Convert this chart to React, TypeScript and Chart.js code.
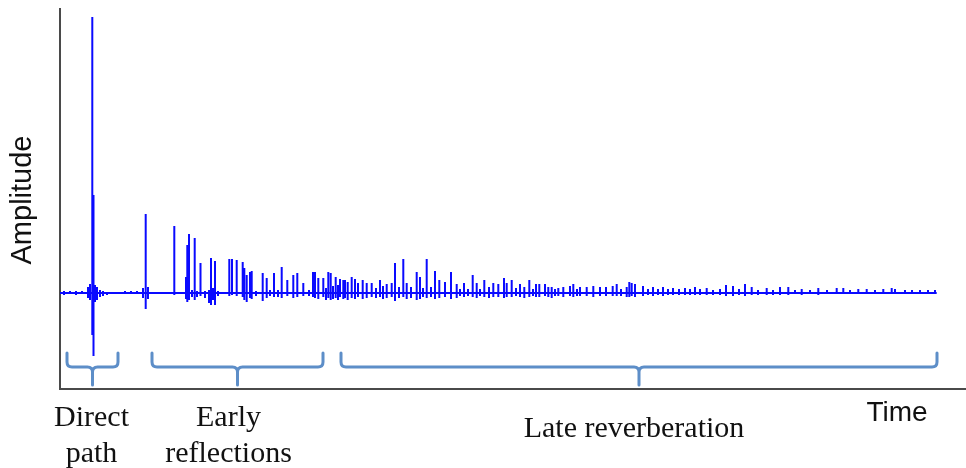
import React, { useEffect, useRef } from "react";
import { Chart, registerables } from "chart.js";

Chart.register(...registerables);

// Impulse response: time in ms, amplitude in raw sample units
const spikeTimes = [
  0.4, 1.0, 1.6, 2.2, 2.8, 3.0, 3.23, 3.35, 3.5, 3.7, 4.0, 4.3, 4.7, 6.5, 7.1, 7.7, 8.3, 8.57, 8.8,
  11.43, 12.6, 12.73, 12.9, 13.2, 13.47, 13.7, 14.05, 14.5, 14.9, 15.1, 15.3, 15.5, 15.8,
  16.93, 17.2, 17.67, 18.27, 18.43, 18.67, 19.0, 19.17, 19.6, 20.27, 20.67, 21.0, 21.4, 21.8,
  22.17, 22.73, 23.33, 23.73, 24.33, 24.9, 25.3, 25.5, 25.83, 26.33, 26.6, 26.83, 27.07, 27.3,
  27.57, 27.8, 28.0, 28.33, 28.5, 28.77, 29.17, 29.5, 29.8, 30.27, 30.67, 31.17, 31.6, 32.0,
  32.3, 32.67, 33.17, 33.5, 33.9, 34.33, 34.67, 35.1, 35.67, 36.0, 36.3, 36.67, 37.1, 37.5,
  37.93, 38.5, 39.1, 39.67, 40.0, 40.4, 40.8, 41.27, 41.67, 42.0, 42.43, 42.9, 43.33, 43.83,
  44.4, 44.67, 45.17, 45.6, 46.0, 46.43, 46.93, 47.3, 47.6, 47.93, 48.5, 48.83, 49.17, 49.5,
  49.83, 50.33, 51.0, 51.33, 51.7, 52.0, 52.67, 53.33, 54.0, 54.6, 55.27, 55.67, 56.1, 56.67,
  56.93, 57.17, 57.5, 58.3, 58.8, 59.3, 59.8, 60.3, 60.8, 61.3, 61.9, 62.5, 63.0, 63.5, 64.0,
  64.67, 65.3, 66.0, 66.6, 67.3, 67.9, 68.5, 69.17, 69.8, 70.67, 71.3, 72.0, 72.83, 73.5,
  74.17, 75.0, 75.83, 76.7, 77.67, 78.33, 79.0, 79.83, 80.67, 81.5, 82.33, 83.17, 83.5, 84.5,
  85.2, 86.0, 86.8, 87.5,
];
const spikePeaks = [
  200, 200, 200, 200, 600, 900, 27600, 9800, 800, 600, 300, 200, 100, 200, 200, 200, 500, 7900, 600,
  6700, 1600, 4800, 5900, 300, 5500, 200, 3000, 200, 300, 3500, 500, 3200, 200,
  3400, 3400, 3300, 3100, 2500, 1800, 2100, 2200, 200, 2000, 1500, 300, 2000, 300,
  2600, 1300, 1800, 2000, 1000, 300, 2100, 2100, 1500, 1500, 500, 2100, 2000, 700,
  1600, 800, 1400, 1300, 1300, 1100, 1600, 1400, 1000, 1300, 1000, 1000, 500, 1300,
  700, 900, 1000, 3000, 600, 3400, 1000, 600, 2100, 1600, 500, 3400, 600, 2200,
  1300, 1100, 2100, 900, 400, 1000, 400, 1800, 1000, 400, 1300, 600, 1000, 900,
  1500, 1000, 1300, 500, 900, 600, 1300, 400, 900, 900, 900, 600, 600, 400,
  500, 600, 700, 900, 400, 600, 600, 700, 600, 600, 700, 900, 400, 600,
  1100, 1000, 900, 700, 400, 600, 400, 600, 400, 500, 400, 500, 400, 600, 400,
  500, 300, 400, 800, 700, 400, 900, 600, 300, 500, 300, 600, 600, 300,
  400, 300, 500, 300, 500, 500, 300, 400, 400, 300, 400, 500, 400, 300,
  300, 300, 300, 300,
];
const spikeTroughs = [
  -200, -100, -200, -100, -500, -700, -4200, -6300, -900, -700, -400, -300, -200, -100, -100, -100, -500, -1600, -600,
  -200, -600, -900, -700, -400, -700, -400, -300, -500, -1000, -1200, -700, -1200, -300,
  -300, -200, -300, -400, -700, -900, -500, -600, -300, -800, -500, -300, -400, -400,
  -500, -300, -500, -400, -300, -300, -400, -500, -600, -400, -700, -500, -700, -600,
  -500, -700, -400, -600, -500, -700, -500, -600, -400, -600, -500, -400, -500, -400,
  -600, -500, -400, -800, -500, -400, -600, -500, -700, -600, -400, -500, -400, -600,
  -500, -400, -600, -500, -300, -400, -300, -400, -500, -300, -400, -500, -400, -400,
  -500, -400, -400, -300, -400, -500, -400, -300, -400, -400, -300, -400, -500, -300,
  -300, -400, -300, -400, -300, -300, -300, -400, -300, -300, -300, -300, -300, -400,
  -400, -300, -400, -300, -200, -300, -200, -300, -200, -200, -200, -200, -200, -200, -200,
  -200, -200, -200, -300, -300, -200, -300, -200, -200, -200, -200, -200, -200, -100,
  -200, -100, -200, -100, -100, -100, -100, -100, -100, -100, -100, -100, -100, -100,
  -100, -100, -100, -100,
];
const signalEnd = 87.67;

// Segments of the response
const bracketStarts = [0.7, 9.2, 28.1];
const bracketEnds = [5.8, 26.3, 87.7];
const bracketLabels = [["Direct", "path"], ["Early", "reflections"], ["Late reverberation"]];
const xAxisTitle = "Time";
const yAxisTitle = "Amplitude";

const X_MIN = 0;
const X_MAX = 90.2;
const Y_MIN = -9500;
const Y_MAX = 28300;

const labelOffsets = [-1, -9, -5];
const labelBaselines = [[426, 462], [426, 462], [437]];

const overlayPlugin = {
  id: "overlay",
  beforeDatasetsDraw(chart: any) {
    const { ctx, chartArea, scales } = chart;
    const xs = scales.x;
    ctx.save();
    // axes
    ctx.strokeStyle = "#4a4a4a";
    ctx.lineWidth = 2;
    ctx.beginPath();
    ctx.moveTo(chartArea.left, 8);
    ctx.lineTo(chartArea.left, chartArea.bottom + 1);
    ctx.lineTo(966, chartArea.bottom + 1);
    ctx.stroke();

    // braces
    const top = chartArea.bottom - 35;
    const mid = chartArea.bottom - 21;
    const tip = chartArea.bottom - 3;
    const r = 5;
    ctx.strokeStyle = "rgb(93,142,200)";
    ctx.lineWidth = 3;
    ctx.lineCap = "round";
    ctx.lineJoin = "round";
    for (let i = 0; i < bracketStarts.length; i++) {
      const x1 = xs.getPixelForValue(bracketStarts[i]);
      const x2 = xs.getPixelForValue(bracketEnds[i]);
      const xc = (x1 + x2) / 2;
      ctx.beginPath();
      ctx.moveTo(x1, top);
      ctx.lineTo(x1, mid - r);
      ctx.quadraticCurveTo(x1, mid, x1 + r, mid);
      ctx.lineTo(xc - r, mid);
      ctx.quadraticCurveTo(xc, mid, xc, mid + r);
      ctx.lineTo(xc, tip);
      ctx.moveTo(x2, top);
      ctx.lineTo(x2, mid - r);
      ctx.quadraticCurveTo(x2, mid, x2 - r, mid);
      ctx.lineTo(xc + r, mid);
      ctx.quadraticCurveTo(xc, mid, xc, mid + r);
      ctx.stroke();
    }

    // labels
    ctx.fillStyle = "#111";
    ctx.textAlign = "center";
    ctx.textBaseline = "alphabetic";
    ctx.font = '30px "Liberation Serif", "Times New Roman", serif';
    for (let i = 0; i < bracketLabels.length; i++) {
      const x1 = xs.getPixelForValue(bracketStarts[i]);
      const x2 = xs.getPixelForValue(bracketEnds[i]);
      const xc = (x1 + x2) / 2 + labelOffsets[i];
      bracketLabels[i].forEach((line, j) => {
        ctx.fillText(line, xc, labelBaselines[i][j]);
      });
    }
    ctx.font = '28px "Liberation Sans", Arial, sans-serif';
    ctx.fillText(xAxisTitle, 897, 421);
    ctx.translate(31, 200);
    ctx.rotate(-Math.PI / 2);
    ctx.font = '29px "Liberation Sans", Arial, sans-serif';
    ctx.fillText(yAxisTitle, 0, 0);
    ctx.restore();
  },
};

export default function App() {
  const canvasRef = useRef<HTMLCanvasElement | null>(null);

  useEffect(() => {
    const canvas = canvasRef.current;
    if (!canvas) return;
    const points: { x: number; y: number }[] = [{ x: X_MIN, y: 0 }];
    for (let i = 0; i < spikeTimes.length; i++) {
      const t = spikeTimes[i];
      points.push({ x: t, y: 0 });
      points.push({ x: t, y: spikePeaks[i] });
      points.push({ x: t, y: spikeTroughs[i] });
      points.push({ x: t, y: 0 });
    }
    points.push({ x: signalEnd, y: 0 });

    const chart = new Chart(canvas, {
      type: "line",
      data: {
        datasets: [
          {
            data: points,
            borderColor: "rgb(10,10,255)",
            borderWidth: 2,
            pointRadius: 0,
            tension: 0,
            fill: false,
            borderJoinStyle: "bevel",
          },
        ],
      },
      options: {
        animation: false,
        responsive: false,
        devicePixelRatio: 1,
        layout: { padding: { left: 60, right: 4, top: 10, bottom: 80 } },
        plugins: { legend: { display: false }, tooltip: { enabled: false } },
        scales: {
          x: { type: "linear", min: X_MIN, max: X_MAX, display: false },
          y: { type: "linear", min: Y_MIN, max: Y_MAX, display: false },
        },
      },
      plugins: [overlayPlugin],
    });
    return () => chart.destroy();
  }, []);

  return (
    <div style={{ position: "absolute", left: 0, top: 0, width: 966, height: 468, background: "#fff" }}>
      <canvas ref={canvasRef} width={966} height={468} style={{ width: 966, height: 468 }} />
    </div>
  );
}
